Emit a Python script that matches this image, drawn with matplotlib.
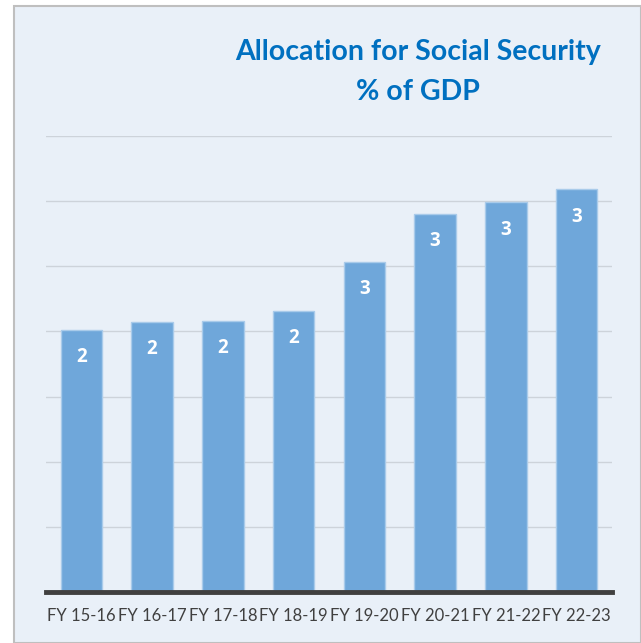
import matplotlib.pyplot as plt
from matplotlib.patches import Rectangle

# data
years = ['FY 15-16', 'FY 16-17', 'FY 17-18', 'FY 18-19',
         'FY 19-20', 'FY 20-21', 'FY 21-22', 'FY 22-23']
alloc = [2.01, 2.07, 2.08, 2.16, 2.53, 2.90, 2.99, 3.09]
labels = [str(int(round(v))) for v in alloc]

W, H = 641, 643
fig = plt.figure(figsize=(W / 100, H / 100), dpi=100)
fig.patch.set_facecolor('white')

# panel behind the chart
panel = Rectangle((14 / W, 0), 1 - 14 / W, 1 - 6 / H, transform=fig.transFigure,
                  facecolor='#E9F0F8', edgecolor='#BFBFBF', linewidth=1.5, zorder=-1)
fig.add_artist(panel)

ax = fig.add_axes([46 / W, 1 - 592 / H, (612 - 46) / W, (592 - 136) / H])
ax.set_facecolor('none')
ax.set_zorder(2)

x = range(len(years))
ax.bar(x, alloc, width=0.59, color='#6FA7DA', edgecolor='#A9CBEA',
       linewidth=1, zorder=3)

for i, v in enumerate(alloc):
    ax.annotate(labels[i], (i, v), xytext=(0, -19.5), textcoords='offset points',
                ha='center', va='center', color='white', fontsize=13.5,
                fontweight='bold', family='Open Sans', zorder=4)

ax.set_xlim(-0.5, len(years) - 0.5)
ax.set_ylim(0, 3.5)
ax.set_yticks([0.5, 1, 1.5, 2, 2.5, 3, 3.5])
ax.yaxis.grid(True, color='#CDD3DA', linewidth=1)
ax.set_axisbelow(True)
ax.tick_params(left=False, labelleft=False, bottom=False)

for s in ['top', 'right', 'left']:
    ax.spines[s].set_visible(False)
ax.spines['bottom'].set_color('#404040')
ax.spines['bottom'].set_linewidth(3.5)
ax.spines['bottom'].set_zorder(5)

ax.set_xticks(list(x))
ax.set_xticklabels(years, fontsize=12, color='#404040', family='Lato')
ax.tick_params(axis='x', pad=8)

fig.text(418 / W, 1 - 52 / H, 'Allocation for Social Security', ha='center',
         va='center', fontsize=20.5, fontweight='bold', color='#0070C0', family='Lato')
fig.text(418 / W, 1 - 92 / H, '% of GDP', ha='center',
         va='center', fontsize=20.5, fontweight='bold', color='#0070C0', family='Lato')

fig.savefig('out.png', dpi=100)
